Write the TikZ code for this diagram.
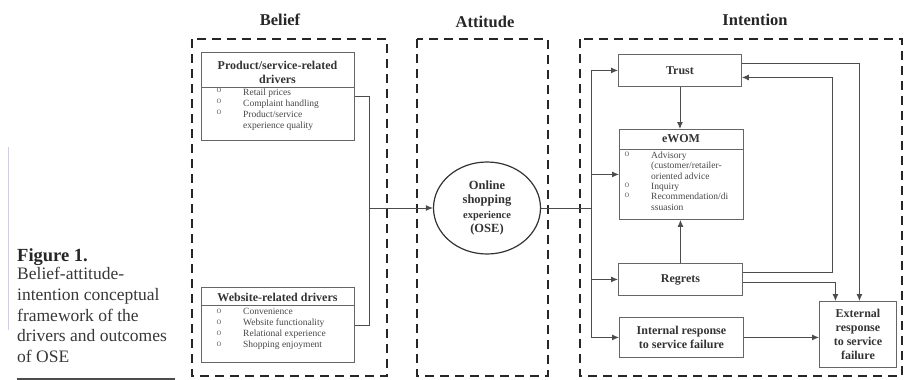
\documentclass[tikz,border=0pt]{standalone}
\usepackage{fontspec}
\setmainfont{Liberation Serif}
\usetikzlibrary{arrows.meta,shapes.geometric}
\begin{document}
\begin{tikzpicture}[x=1pt,y=-1pt,
  frame/.style={draw=black!85, line width=2.6pt, dash pattern=on 9pt off 6pt},
  box/.style={draw=black!60, line width=0.9pt, anchor=north west, inner sep=0pt},
  divider/.style={draw=black!60, line width=0.9pt},
  conn/.style={draw=black!70, line width=0.9pt},
  arr/.style={conn, -{Latex[length=7pt,width=6pt]}},
  heading/.style={font=\fontsize{16.5}{18}\selectfont\bfseries, text=black!85},
  title/.style={font=\fontsize{12}{14.5}\selectfont\bfseries, text=black!80, align=center},
  items/.style={font=\fontsize{9.5}{11}\selectfont, text=black!72, align=left, anchor=north west, inner sep=0pt, execute at begin node=\strut},
  bullets/.style={items, text=black!55},
]
\useasboundingbox (0,0) rectangle (905,380);

% caption
\draw[blue!20!white, line width=0.6pt] (8,147) -- (8,330);
\node[anchor=base west, inner sep=0pt, font=\fontsize{18.5}{20}\selectfont\bfseries, text=black!85] (fig) at (17,261) {Figure 1.};
\node[anchor=north west, inner sep=0pt, align=left, font=\fontsize{17.5}{20.6}\selectfont, text=black!78, execute at begin node=\strut] (cap) at (17,267.3)
  {Belief-attitude-\\intention conceptual\\framework of the\\drivers and outcomes\\of OSE};
\draw[black!70, line width=1.3pt] (17,379) -- (175,379);

% headings
\node[heading] (hb) at (280,20) {Belief};
\node[heading] (ha) at (485,22) {Attitude};
\node[heading] (hi) at (755,20) {Intention};

% dashed frames
\draw[frame] (192,39) rectangle (387,376);
\draw[frame] (417,39) rectangle (548,376);
\draw[frame] (580,39) rectangle (902,376);

% Belief boxes
\node[box, minimum width=153pt, minimum height=88pt] (prod) at (201,52) {};
\draw[divider] (201,87) -- (354,87);
\node[title] (prodT) at (277.5,72.5) {Product/service-related\\drivers};
\node[bullets] (prodB) at (216.5,88.3) {o\\o\\o};
\node[items] (prodI) at (243,88.3) {Retail prices\\Complaint handling\\Product/service\\experience quality};

\node[box, minimum width=153pt, minimum height=75pt] (web) at (201,287) {};
\draw[divider] (201,305) -- (354,305);
\node[title] (webT) at (277.5,297) {Website-related drivers};
\node[bullets] (webB) at (216.5,308.5) {o\\o\\o\\o};
\node[items] (webI) at (243,308.5) {Convenience\\Website functionality\\Relational experience\\Shopping enjoyment};

% OSE
\node[ellipse, draw=black!80, line width=1.2pt, minimum width=107pt, minimum height=92pt, inner sep=0pt,
  font=\fontsize{12.5}{14.3}\selectfont\bfseries, text=black!80, align=center] (ose) at (487,208)
  {Online\\shopping\\{\fontsize{10.5}{14.3}\selectfont experience}\\(OSE)};

\coordinate (jn) at (369,208);
\draw[conn] (prod.east) -| (jn);
\draw[conn] (web.east) -| (jn);
\draw[arr] (jn) -- (ose.west);

% Intention boxes
\node[box, title, minimum width=123pt, minimum height=32pt] (trust) at (618,54) {Trust};
\node[box, minimum width=124pt, minimum height=90pt] (ewom) at (619,129) {};
\draw[divider] (619,149) -- (743,149);
\node[title] (ewomT) at (681,139) {eWOM};
\node[bullets, font=\fontsize{9.5}{10.4}\selectfont] (ewomB) at (624.5,151.6) {o\\~\\~\\o\\o};
\node[items, font=\fontsize{9.5}{10.4}\selectfont] (ewomI) at (651,151.6) {Advisory\\(customer/retailer-\\oriented advice\\Inquiry\\Recommendation/di\\ssuasion};
\node[box, title, minimum width=124pt, minimum height=32pt] (reg) at (618,263) {Regrets};
\node[box, title, minimum width=124pt, minimum height=40pt, font=\fontsize{12}{14}\selectfont\bfseries] (intr) at (619,317) {Internal response\\to service failure};
\node[box, title, minimum width=77pt, minimum height=66pt, font=\fontsize{12}{13.7}\selectfont\bfseries] (ext) at (819,301) {External\\response\\to service\\failure};

% bus from OSE
\coordinate (bus) at (591,208);
\draw[conn] (ose.east) -- (bus);
\draw[conn] (bus |- trust.west) -- (bus |- intr.west);
\draw[arr] (bus |- trust.west) -- (trust.west);
\draw[arr] (bus |- ewom.west) -- (ewom.west);
\draw[arr] (bus |- reg.west) -- (reg.west);
\draw[arr] (bus |- intr.west) -- (intr.west);

% inner arrows
\draw[arr] (trust.south) -- (trust.south |- ewom.north);
\draw[arr] (reg.north) -- (reg.north |- ewom.south);

\coordinate (tIn) at ([yshift=-7pt]trust.east);
\coordinate (tOut) at ([yshift=7pt]trust.east);
\coordinate (rOut1) at ([yshift=7pt]reg.east);
\coordinate (rOut2) at ([yshift=-3pt]reg.east);
\coordinate (upx) at (832,0);
\draw[arr] (rOut1) -| (upx |- tIn) -- (tIn);
\draw[arr] (tOut) -| ([xshift=1.5pt]ext.north);
\draw[arr] (rOut2) -| ([xshift=-22.5pt]ext.north);
\draw[arr] (intr.east) -- (intr.east -| ext.west);
\end{tikzpicture}
\end{document}
